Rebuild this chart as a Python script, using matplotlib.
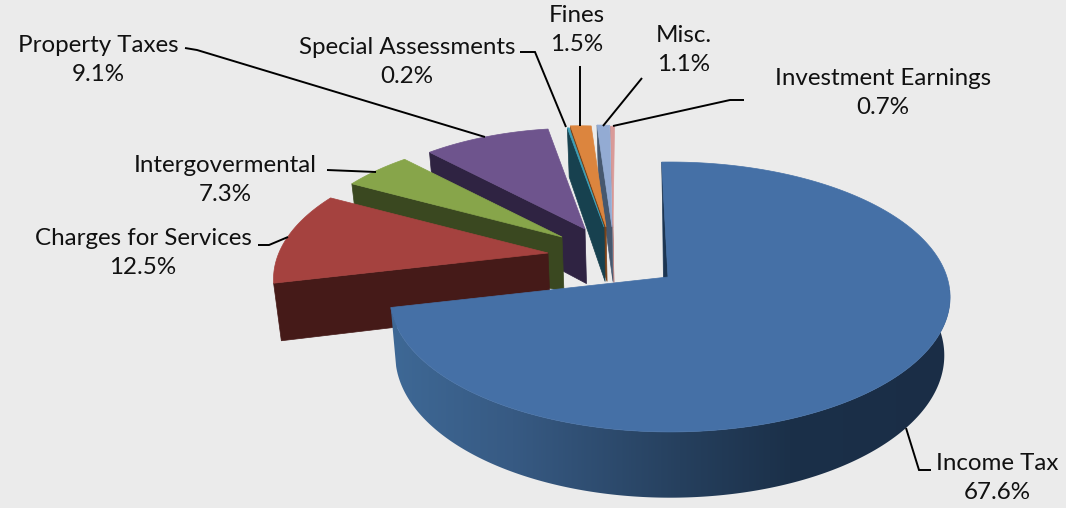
import matplotlib
matplotlib.use("Agg")
import matplotlib.pyplot as plt
from matplotlib.patches import Polygon
import numpy as np

labels = ["Income Tax", "Charges for Services", "Intergovermental", "Property Taxes",
          "Special Assessments", "Fines", "Misc.", "Investment Earnings"]
values = [67.6, 12.5, 7.3, 9.1, 0.2, 1.5, 1.1, 0.7]

top_colors = ["#4570A6", "#A5423F", "#87A54A", "#6E548D", "#3FA0B8", "#DC853E", "#93ABD3", "#D99A98"]
side_colors = ["#1C3552", "#451A18", "#3A4820", "#2F2342", "#17414F", "#7A4218", "#46586F", "#C08A88"]

# layout of the exploded slices, in pixels
apex_x = [668, 548, 562, 585, 604, 606, 612, 613]
apex_y = [277, 253, 237, 229, 227, 227, 227, 228]
r_start = [1.0, 0.99, 0.919, 0.888, 0.858, 0.877, 0.875, 0.87]
r_end = [1.0, 0.953, 0.90, 0.867, 0.858, 0.866, 0.87, 0.87]
label_x = [997, 143, 225, 98, 407, 577, 684, 883]
label_y = [478, 253, 180, 60, 62, 30, 50, 93]

leaders = [
    [(906, 428), (919, 470), (931, 470)],
    [(258, 245), (269, 245), (288, 237)],
    [(327, 170), (376, 172)],
    [(185, 48), (197, 50), (485, 137)],
    [(520, 52), (535, 52), (566, 127)],
    [(580, 66), (580, 126)],
    [(642, 78), (603, 126)],
    [(744, 100), (730, 100), (613, 126)],
]

# Excel's perspective squeezes the angles, so map real angle to drawn angle
warp_in = np.concatenate(([0], np.cumsum(values) * 3.6))
warp_out = [-1.5, 257, 298, 316, 350, 350.5, 356, 359.4, 360.4]

A, B, P, Q = 277, 132, 0.148, 0.007


def rim(phi, r, ax_, ay_):
    t = np.radians(phi)
    X = r * np.sin(t)
    Y = r * np.cos(t)
    w = 1 + P * Y - Q * X
    return ax_ + A * X / w, ay_ - B * Y / w


def drop(x, y):
    # bottom face of the pie, a little narrower towards the vanishing point
    x = np.asarray(x, dtype=float)
    y = np.asarray(y, dtype=float)
    return x + 0.02 * (660 - x), y + 42 + 0.055 * y


def shade(x):
    stops = [395, 513, 680, 790, 949]
    cols = np.array([[0x3E, 0x68, 0x95], [0x37, 0x5A, 0x83], [0x26, 0x40, 0x5E],
                     [0x1B, 0x30, 0x49], [0x1A, 0x2D, 0x46]]) / 255
    return np.stack([np.interp(x, stops, cols[:, i]) for i in range(3)], axis=-1)


fig = plt.figure(figsize=(10.66, 5.08), dpi=100, facecolor="#EBEBEB")
ax = fig.add_axes([0, 0, 1, 1])
ax.axis("off")

# back slices first, income tax last
for i in range(len(values) - 1, 0, -1):
    x0, y0 = rim(np.interp(warp_in[i], warp_in, warp_out), r_start[i], apex_x[i], apex_y[i])
    bx0, by0 = drop(x0, y0)
    bx1, by1 = drop(apex_x[i], apex_y[i])
    ax.fill([x0, apex_x[i], bx1, bx0], [y0, apex_y[i], by1, by0], color=side_colors[i], lw=0.5)

    phi = np.linspace(warp_out[i], warp_out[i + 1], 50)
    r = np.linspace(r_start[i], r_end[i], 50)
    xs, ys = rim(phi, r, apex_x[i], apex_y[i])
    ax.fill(np.r_[apex_x[i], xs], np.r_[apex_y[i], ys], color=top_colors[i], lw=0.5)

# income tax: start face sliver, outer wall, top
sx, sy = rim(warp_out[0], 1.0, apex_x[0], apex_y[0])
ax.fill([sx, apex_x[0], 664, sx + 1], [sy, apex_y[0], 330, sy + 52], color=side_colors[0], lw=0.5)

phi = np.linspace(85, warp_out[1], 240)
xs, ys = rim(phi, 1.0, apex_x[0], apex_y[0])
bx, by = drop(xs, ys)
wall = Polygon(np.c_[np.r_[xs, bx[::-1]], np.r_[ys, by[::-1]]], closed=True, transform=ax.transData,
               fc="none", ec="none")
ax.add_patch(wall)
grad_x = np.arange(385, 955)
img = ax.imshow(shade(grad_x)[np.newaxis, :, :], extent=(385, 955, 510, 290), aspect="auto",
                interpolation="bilinear", zorder=1.5)
img.set_clip_path(wall)

phi = np.linspace(warp_out[0], warp_out[1], 300)
xs, ys = rim(phi, 1.0, apex_x[0], apex_y[0])
ax.fill(np.r_[apex_x[0], xs], np.r_[apex_y[0], ys], color=top_colors[0], lw=0.5, zorder=1.6)

for pts in leaders:
    ax.plot([p[0] for p in pts], [p[1] for p in pts], color="black", lw=1.4, zorder=2,
            solid_joinstyle="miter", solid_capstyle="butt")

for name, val, x, y in zip(labels, values, label_x, label_y):
    ax.text(x, y, f"{name}\n{val}%", ha="center", va="center", fontsize=17.4,
            family="Lato", color="#111111", linespacing=1.52, zorder=3)

ax.set_xlim(0, 1066)
ax.set_ylim(508, 0)

fig.savefig("out.png", dpi=100, facecolor=fig.get_facecolor())
